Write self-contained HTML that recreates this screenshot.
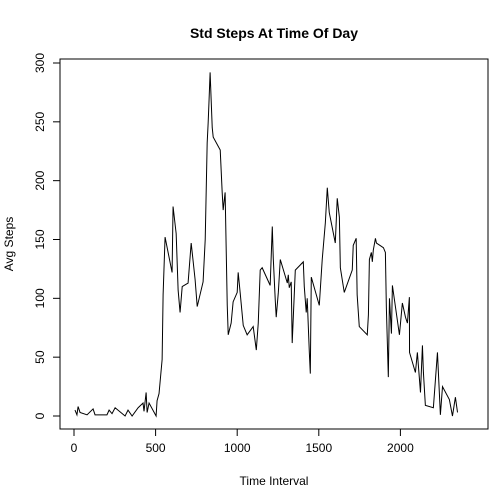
<!DOCTYPE html>
<html><head><meta charset="utf-8"><style>body{margin:0;background:#fff}svg{display:block;font-family:"Liberation Sans",Arial,sans-serif}</style></head>
<body>
<svg id="chart" width="504" height="504"></svg>
<script>
const xs=[6,18,25,37,80,117,129,202,215,233,252,313,331,356,393,423,429,442,448,460,503,509,521,540,546,558,601,607,626,638,650,663,699,718,742,755,791,804,816,822,828,834,847,853,896,908,914,926,939,945,963,975,1000,1006,1018,1037,1061,1098,1117,1129,1141,1153,1202,1215,1221,1233,1239,1252,1264,1307,1313,1319,1331,1337,1356,1405,1411,1423,1429,1442,1448,1454,1503,1521,1540,1552,1564,1601,1613,1626,1632,1656,1705,1711,1729,1735,1748,1797,1804,1810,1822,1828,1834,1847,1853,1896,1908,1914,1926,1933,1945,1951,1994,2012,2031,2043,2055,2056,2092,2104,2123,2135,2141,2153,2202,2227,2245,2258,2300,2319,2337,2350];
const ys=[5,1,8,3,1,6,1,1,5,2,7,0,5,0,7,11,4,20,3,11,0,13,19,48,103,152,122,178,155,107,88,110,113,147,116,93,114,150,232,249,270,292,245,237,226,190,175,190,94,69,79,97,105,122,105,77,69,76,56,79,124,126,111,161,134,99,84,105,133,113,120,109,114,62,124,131,110,88,100,54,36,118,94,133,164,194,173,147,185,169,126,105,124,145,151,103,76,69,86,133,139,131,141,151,147,143,139,92,33,100,70,111,69,96,84,79,101,54,37,54,20,60,37,9,7,54,1,25,14,0,16,3];
const xTicks=[0,500,1000,1500,2000];
const yTicks=[0,50,100,150,200,250,300];
const svg=document.getElementById('chart');const NS='http://www.w3.org/2000/svg';
const X=v=>74+v*0.1632, Y=v=>416-v*1.1767;
function mk(t,a,p){const e=document.createElementNS(NS,t);for(const k in a)e.setAttribute(k,a[k]);(p||svg).appendChild(e);return e;}
const box=mk('rect',{x:60,y:59,width:428,height:370,fill:'none',stroke:'#000'});


const line=mk('polyline',{points:xs.map((x,i)=>X(x)+','+Y(ys[i])).join(' '),fill:'none',stroke:'#000','stroke-width':1});


mk('line',{x1:X(0),x2:X(2000),y1:429,y2:429,stroke:'#000'});
xTicks.forEach(t=>{mk('line',{x1:X(t),x2:X(t),y1:429,y2:436,stroke:'#000'});
const tx=mk('text',{x:X(t),y:452,'font-size':12,'text-anchor':'middle'});tx.textContent=t;

});
mk('line',{x1:60,x2:60,y1:Y(0),y2:Y(300),stroke:'#000'});
yTicks.forEach(t=>{mk('line',{x1:53,x2:60,y1:Y(t),y2:Y(t),stroke:'#000'});
const tx=mk('text',{x:44,y:Y(t),'font-size':12,'text-anchor':'middle',transform:`rotate(-90 44 ${Y(t)})`});tx.textContent=t;

});
const ti=mk('text',{x:274,y:38,'font-size':14,'font-weight':'bold','text-anchor':'middle'});ti.textContent='Std Steps At Time Of Day';


const xl=mk('text',{x:274,y:485,'font-size':12,'text-anchor':'middle'});xl.textContent='Time Interval';


const yl=mk('text',{x:13,y:244,'font-size':12,'text-anchor':'middle',transform:'rotate(-90 13 244)'});yl.textContent='Avg Steps';


</script>
</body></html>
